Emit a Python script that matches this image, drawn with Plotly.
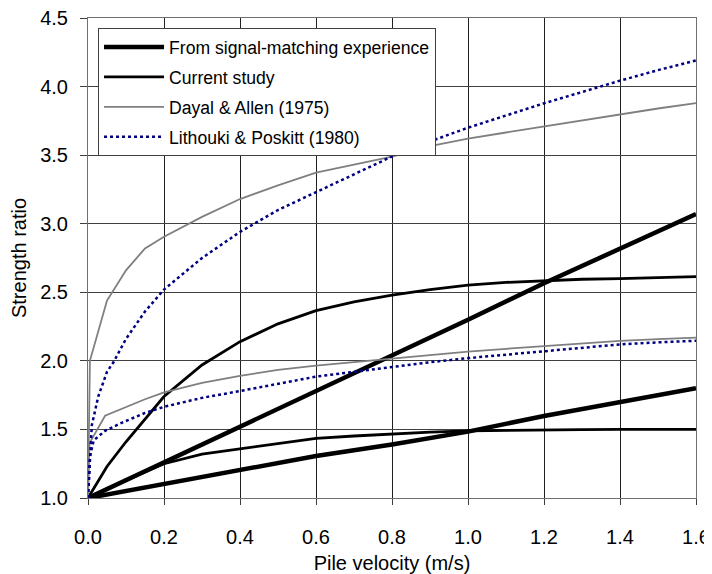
import plotly.graph_objects as go

# ---------------- data ----------------
# From signal-matching experience (upper and lower bound lines)
sm_x = [0.0, 0.2, 0.4, 0.6, 0.8, 1.0, 1.2, 1.4, 1.6]
sm_upper = [1.0, 1.26, 1.52, 1.775, 2.035, 2.30, 2.566, 2.82, 3.07]
sm_lower = [1.0, 1.10, 1.20, 1.306, 1.39, 1.484, 1.598, 1.70, 1.80]

# Current study (upper and lower curves)
cs_x = [0.0, 0.05, 0.1, 0.2, 0.3, 0.4, 0.5, 0.6, 0.7, 0.8, 0.9, 1.0,
        1.1, 1.2, 1.3, 1.4, 1.5, 1.6]
cs_upper = [1.0, 1.23, 1.41, 1.74, 1.97, 2.14, 2.27, 2.366, 2.43, 2.48,
            2.52, 2.553, 2.572, 2.585, 2.595, 2.60, 2.608, 2.614]
cs_lower = [1.0, 1.07, 1.13, 1.25, 1.32, 1.36, 1.395, 1.435, 1.452, 1.467,
            1.48, 1.49, 1.494, 1.497, 1.499, 1.50, 1.50, 1.50]

# Dayal & Allen (1975)
da_upper_x = [0.0, 0.005, 0.05, 0.1, 0.15, 0.2, 0.3, 0.4, 0.5, 0.6, 0.7,
              0.8, 0.9, 1.0, 1.1, 1.2, 1.3, 1.4, 1.5, 1.6]
da_upper = [1.0, 2.0, 2.44, 2.66, 2.82, 2.905, 3.05, 3.18, 3.28, 3.372,
            3.43, 3.49, 3.565, 3.62, 3.665, 3.71, 3.755, 3.80, 3.84, 3.88]
da_lower_x = [0.0, 0.004, 0.045, 0.1, 0.15, 0.2, 0.3, 0.4, 0.5, 0.6, 0.7,
              0.8, 0.9, 1.0, 1.1, 1.2, 1.3, 1.4, 1.5, 1.6]
da_lower = [1.0, 1.40, 1.60, 1.665, 1.72, 1.77, 1.84, 1.89, 1.935, 1.965,
            1.99, 2.02, 2.045, 2.067, 2.088, 2.108, 2.127, 2.145, 2.158, 2.17]

# Lithouki & Poskitt (1980)
lp_upper_x = [0.0, 0.01, 0.027, 0.05, 0.067, 0.1, 0.15, 0.2, 0.3, 0.4,
              0.5, 0.6, 0.7, 0.8, 0.9, 1.0, 1.1, 1.2, 1.3, 1.4, 1.5, 1.6]
lp_upper = [1.0, 1.53, 1.74, 1.92, 1.99, 2.16, 2.36, 2.52, 2.75, 2.94,
            3.10, 3.233, 3.36, 3.49, 3.60, 3.70, 3.79, 3.878, 3.96, 4.043,
            4.12, 4.19]
lp_lower_x = [0.0, 0.005, 0.015, 0.045, 0.09, 0.15, 0.2, 0.3, 0.4, 0.5,
              0.6, 0.7, 0.8, 0.9, 1.0, 1.1, 1.2, 1.3, 1.4, 1.5, 1.6]
lp_lower = [1.0, 1.30, 1.42, 1.49, 1.55, 1.62, 1.665, 1.73, 1.78, 1.835,
            1.885, 1.92, 1.957, 1.99, 2.02, 2.045, 2.074, 2.10, 2.12, 2.135,
            2.147]

x_ticks = [0.0, 0.2, 0.4, 0.6, 0.8, 1.0, 1.2, 1.4, 1.6]
y_ticks = [1.0, 1.5, 2.0, 2.5, 3.0, 3.5, 4.0, 4.5]

names = ["From signal-matching experience", "Current study",
         "Dayal & Allen (1975)", "Lithouki & Poskitt (1980)"]

# ---------------- figure ----------------
FONT = "Liberation Sans, Arial, sans-serif"
fig = go.Figure()

series = [
    (names[0], sm_x, sm_upper, sm_x, sm_lower, dict(color="black", width=4.5)),
    (names[1], cs_x, cs_upper, cs_x, cs_lower, dict(color="black", width=2.8)),
    (names[2], da_upper_x, da_upper, da_lower_x, da_lower,
     dict(color="#7f7f7f", width=1.8)),
    (names[3], lp_upper_x, lp_upper, lp_lower_x, lp_lower,
     dict(color="#000080", width=2.5, dash="dot")),
]

for i, (nm, xu, yu, xl, yl, ln) in enumerate(series):
    grp = "g%d" % i
    fig.add_trace(go.Scatter(x=xu, y=yu, mode="lines", name=nm, line=ln,
                             legendgroup=grp, showlegend=True))
    fig.add_trace(go.Scatter(x=xl, y=yl, mode="lines", name=nm, line=ln,
                             legendgroup=grp, showlegend=False))

# the page body has an 8px default margin; margins compensate for that offset
fig.update_layout(
    width=712, height=574,
    margin=dict(l=80, r=24, t=10, b=84),
    paper_bgcolor="white", plot_bgcolor="white",
    font=dict(family=FONT, size=20, color="black"),
    legend=dict(
        x=0.0165, y=0.979, xanchor="left", yanchor="top",
        bgcolor="white", bordercolor="#404040", borderwidth=1,
        font=dict(family=FONT, size=17.6, color="black"),
        traceorder="grouped", tracegroupgap=4, itemwidth=60,
    ),
    xaxis=dict(
        range=[0, 1.6], tickvals=x_ticks,
        ticktext=["%.1f" % v for v in x_ticks],
        showgrid=True, gridcolor="#202020", gridwidth=1,
        showline=True, linecolor="#707070", linewidth=1, mirror=True,
        ticks="outside", ticklen=6, tickcolor="#404040",
        ticklabelstandoff=15, automargin=False, ticklabeloverflow="allow",
        zeroline=False,
        title=dict(text="Pile velocity (m/s)", font=dict(size=20), standoff=8),
    ),
    yaxis=dict(
        range=[1.0, 4.5], tickvals=y_ticks,
        ticktext=["%.1f" % v for v in y_ticks],
        showgrid=True, gridcolor="#404040", gridwidth=1,
        showline=True, linecolor="#707070", linewidth=1, mirror=True,
        ticks="outside", ticklen=7, tickcolor="#404040",
        ticklabelstandoff=8, automargin=False, ticklabeloverflow="allow",
        zeroline=False,
        title=dict(text="Strength ratio", font=dict(size=20), standoff=12),
    ),
)

fig.write_html("out.html")
